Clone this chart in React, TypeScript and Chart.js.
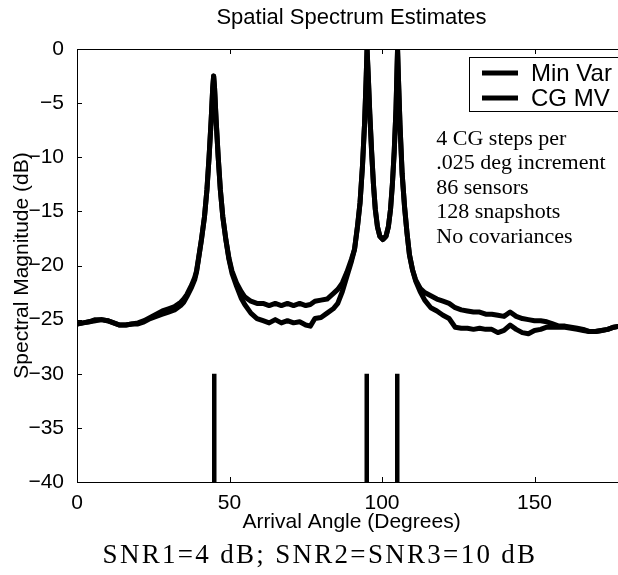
import React, { useEffect, useRef } from 'react';
import { Chart, registerables } from 'chart.js';

Chart.register(...registerables);

// ---------- data ----------
const angles = [
  0, 2, 4, 6, 8, 10, 12, 14, 16, 18,
  20, 22, 24, 26, 28, 30, 32, 34, 35, 36,
  37.6, 38.6, 39.2, 39.8, 40.8, 41.8, 42.6, 43.3, 44, 44.5,
  44.8, 45.1, 45.6, 46.3, 47, 47.8, 48.8, 49.8, 50.8, 52.3,
  53.8, 55, 57, 59, 61, 63, 65, 67, 69, 71,
  73, 75, 76.5, 78, 80, 82, 84, 85.5, 87, 88.5,
  90, 91, 92, 92.8, 93.6, 94.3, 94.8, 95.1, 95.5, 96,
  96.6, 97.2, 97.8, 98.5, 99.3, 100.3, 101.3, 102.1, 102.8, 103.4,
  104, 104.6, 105.1, 105.4, 105.9, 106.6, 107.4, 108.2, 109, 110,
  111, 112.5, 114, 116, 118, 120, 122, 124, 126, 128,
  130, 132, 134, 136, 138, 140, 142, 144, 146, 148,
  150, 152, 154, 156, 158, 160, 162, 164, 166, 168,
  170, 172, 174, 176, 178, 180,
];

const minVar = [
  -25.4, -25.3, -25.2, -25.0, -25.0, -25.1, -25.3, -25.5, -25.5, -25.4,
  -25.3, -25.1, -24.8, -24.5, -24.2, -24.0, -23.8, -23.4, -23.1, -22.7,
  -21.8, -21.1, -20.5, -19.4, -17.6, -15.5, -13.0, -10.0, -6.5, -3.6,
  -2.5, -3.6, -6.5, -10.0, -13.0, -15.5, -17.6, -19.3, -20.5, -21.6,
  -22.4, -22.9, -23.3, -23.5, -23.5, -23.7, -23.5, -23.7, -23.5, -23.7,
  -23.5, -23.7, -23.6, -23.3, -23.2, -23.1, -22.6, -22.2, -21.6, -20.6,
  -19.4, -18.5, -16.3, -14.2, -10.8, -6.8, -2.8, 0, -2.5, -6.0,
  -9.5, -12.5, -14.8, -16.4, -17.3, -17.6, -17.3, -16.4, -14.8, -12.5,
  -9.5, -5.5, 0, -2.8, -7.0, -11.5, -14.6, -17.0, -19.0, -20.4,
  -21.3, -22.1, -22.5, -22.8, -23.1, -23.3, -23.5, -23.9, -24.1, -24.2,
  -24.3, -24.3, -24.5, -24.5, -24.6, -24.7, -24.3, -24.7, -24.9, -25.0,
  -25.1, -25.1, -25.2, -25.4, -25.6, -25.6, -25.7, -25.8, -25.9, -26.1,
  -26.1, -26.0, -25.9, -25.7, -25.6, -25.5,
];

const cgMv = [
  -25.4, -25.3, -25.2, -25.1, -25.0, -25.1, -25.3, -25.5, -25.5, -25.4,
  -25.4, -25.2, -24.9, -24.7, -24.5, -24.3, -24.1, -23.7, -23.4, -22.9,
  -22.0, -21.3, -20.6, -19.5, -17.6, -15.5, -13.0, -10.0, -6.5, -3.6,
  -2.5, -3.6, -6.5, -10.0, -13.0, -15.5, -17.6, -19.4, -20.7, -21.9,
  -23.0, -23.6, -24.4, -24.9, -25.1, -25.3, -25.0, -25.3, -25.1, -25.3,
  -25.2, -25.5, -25.6, -24.9, -24.8, -24.4, -24.0, -23.5, -22.4, -21.0,
  -19.6, -18.5, -16.3, -14.2, -10.8, -6.8, -2.8, 0, -2.5, -6.0,
  -9.5, -12.5, -14.8, -16.4, -17.3, -17.6, -17.3, -16.4, -14.8, -12.5,
  -9.5, -5.5, 0, -2.8, -7.0, -11.5, -14.6, -17.0, -19.0, -20.4,
  -21.4, -22.4, -23.2, -23.9, -24.2, -24.6, -24.9, -25.7, -25.8, -25.8,
  -25.9, -25.8, -25.9, -25.9, -26.2, -26.0, -25.5, -25.9, -26.2, -26.3,
  -26.0, -25.9, -25.7, -25.7, -25.7, -25.7, -25.8, -25.9, -26.0, -26.1,
  -26.1, -26.0, -25.9, -25.7, -25.6, -25.5,
];

const trueAngles = [45, 95, 105];
const trueMarkerRange = [-40, -30];

const xTickValues = [0, 50, 100, 150];
const yTickValues = [-40, -35, -30, -25, -20, -15, -10, -5, 0];
const xRange = [0, 180];
const yRange = [-40, 0];

const seriesLabels = ['Min Var', 'CG MV'];
const noteLines = ['4 CG steps per', '.025 deg increment', '86 sensors', '128 snapshots', 'No covariances'];
const noteAnchor = { x: 117.8, y: -8.3 };

const TITLE = 'Spatial Spectrum Estimates';
const X_TITLE = 'Arrival Angle (Degrees)';
const Y_TITLE = 'Spectral Magnitude (dB)';
const CAPTION = 'SNR1=4 dB; SNR2=SNR3=10 dB';

const SANS = "'Liberation Sans', Arial, Helvetica, sans-serif";
const SERIF = "'Liberation Serif', 'Times New Roman', serif";

// ---------- plugins ----------
const framePlugin = {
  id: 'frame',
  afterDatasetsDraw(chart: any) {
    const { ctx, chartArea: a, scales } = chart;
    const xs = scales.x;
    const ys = scales.y;
    ctx.save();
    ctx.strokeStyle = '#000';
    ctx.lineWidth = 1;
    ctx.strokeRect(a.left + 0.5, a.top + 0.5, a.right - a.left, a.bottom - a.top);
    const tl = 5;
    ctx.beginPath();
    xTickValues.forEach((v) => {
      const px = Math.round(xs.getPixelForValue(v)) + 0.5;
      ctx.moveTo(px, a.bottom);
      ctx.lineTo(px, a.bottom - tl);
      ctx.moveTo(px, a.top);
      ctx.lineTo(px, a.top + tl);
    });
    yTickValues.forEach((v) => {
      const py = Math.round(ys.getPixelForValue(v)) + 0.5;
      ctx.moveTo(a.left, py);
      ctx.lineTo(a.left + tl, py);
      ctx.moveTo(a.right, py);
      ctx.lineTo(a.right - tl, py);
    });
    ctx.stroke();
    ctx.restore();
  },
};

const legendBoxPlugin = {
  id: 'legendBox',
  afterDraw(chart: any) {
    const { ctx, chartArea: a } = chart;
    const right = a.right - 4;
    const top = a.top + 8;
    const w = 153;
    const h = 54;
    const left = right - w;
    ctx.save();
    ctx.fillStyle = '#fff';
    ctx.fillRect(left, top, w, h);
    ctx.strokeStyle = '#000';
    ctx.lineWidth = 1;
    ctx.strokeRect(left + 0.5, top + 0.5, w, h);
    ctx.font = `24px ${SANS}`;
    ctx.textBaseline = 'middle';
    ctx.textAlign = 'left';
    ctx.fillStyle = '#000';
    chart.data.datasets.slice(0, 2).forEach((ds: any, i: number) => {
      const cy = top + 16 + i * 25;
      ctx.beginPath();
      ctx.lineWidth = 5;
      ctx.strokeStyle = ds.borderColor;
      ctx.moveTo(left + 13, cy);
      ctx.lineTo(left + 49, cy);
      ctx.stroke();
      ctx.fillText(ds.label, left + 62, cy + 1);
    });
    ctx.restore();
  },
};

const notesPlugin = {
  id: 'notes',
  afterDraw(chart: any) {
    const { ctx, scales } = chart;
    const x0 = scales.x.getPixelForValue(noteAnchor.x);
    const y0 = scales.y.getPixelForValue(noteAnchor.y);
    ctx.save();
    ctx.font = `22px ${SERIF}`;
    ctx.fillStyle = '#000';
    ctx.textAlign = 'left';
    ctx.textBaseline = 'middle';
    noteLines.forEach((t, i) => ctx.fillText(t, x0, y0 + i * 24.5));
    ctx.restore();
  },
};

const captionPlugin = {
  id: 'caption',
  afterDraw(chart: any) {
    const { ctx } = chart;
    ctx.save();
    ctx.font = `27px ${SERIF}`;
    (ctx as any).letterSpacing = '2.3px';
    ctx.fillStyle = '#000';
    ctx.textAlign = 'center';
    ctx.textBaseline = 'middle';
    ctx.fillText(CAPTION, 320, 556);
    ctx.restore();
  },
};

export default function App() {
  const canvasRef = useRef<HTMLCanvasElement | null>(null);

  useEffect(() => {
    if (!canvasRef.current) return;
    const toPts = (ys: number[]) => angles.map((a, i) => ({ x: a, y: ys[i] }));
    const markerPts: any[] = [];
    trueAngles.forEach((a) => {
      markerPts.push({ x: a, y: trueMarkerRange[0] });
      markerPts.push({ x: a, y: trueMarkerRange[1] });
      markerPts.push({ x: a, y: null });
    });

    const lineStyle = {
      borderColor: '#000',
      backgroundColor: '#000',
      borderWidth: 5,
      pointRadius: 0,
      tension: 0,
      borderJoinStyle: 'round',
      borderCapStyle: 'round',
      fill: false,
    };

    const chart = new Chart(canvasRef.current, {
      type: 'line',
      data: {
        datasets: [
          { label: seriesLabels[0], data: toPts(minVar), ...lineStyle },
          { label: seriesLabels[1], data: toPts(cgMv), ...lineStyle },
          { label: 'true', data: markerPts, ...lineStyle, borderWidth: 4.5, borderCapStyle: 'butt', spanGaps: false },
        ] as any,
      },
      options: {
        animation: false,
        responsive: true,
        maintainAspectRatio: false,
        layout: { padding: { top: 0, right: 4, bottom: 35.4, left: 0 } },
        plugins: {
          legend: { display: false },
          tooltip: { enabled: false },
          title: {
            display: true,
            text: TITLE,
            color: '#000',
            fullSize: false,
            font: { family: SANS, size: 22, weight: 'normal' },
            padding: { top: 5, bottom: 17.6 },
          },
        },
        scales: {
          x: {
            type: 'linear',
            min: xRange[0],
            max: xRange[1],
            grid: { display: false },
            border: { display: false },
            afterBuildTicks: (s: any) => {
              s.ticks = xTickValues.map((v) => ({ value: v }));
            },
            afterFit: (s: any) => {
              s.height = 57.6;
            },
            ticks: {
              color: '#000',
              padding: 1,
              maxRotation: 0,
              font: { family: SANS, size: 21 },
              callback: (v: any) => String(v),
            },
            title: {
              display: true,
              text: X_TITLE,
              color: '#000',
              font: { family: SANS, size: 21 },
              padding: { top: 0, bottom: 5 },
            },
          },
          y: {
            type: 'linear',
            min: yRange[0],
            max: yRange[1],
            grid: { display: false },
            border: { display: false },
            afterBuildTicks: (s: any) => {
              s.ticks = yTickValues.map((v) => ({ value: v }));
            },
            afterFit: (s: any) => {
              s.width = 77;
            },
            ticks: {
              color: '#000',
              padding: 5,
              font: { family: SANS, size: 21 },
              callback: (v: any) => String(v).replace('-', '\u2212'),
            },
            title: {
              display: true,
              text: Y_TITLE,
              color: '#000',
              font: { family: SANS, size: 21 },
              padding: { top: 10, bottom: 0 },
            },
          },
        },
      } as any,
      plugins: [framePlugin, legendBoxPlugin, notesPlugin, captionPlugin],
    });
    return () => chart.destroy();
  }, []);

  return (
    <div style={{ position: 'absolute', left: 0, top: 0, width: 618, height: 575, overflow: 'hidden', background: '#fff' }}>
      <div style={{ position: 'relative', width: 630, height: 575 }}>
        <canvas ref={canvasRef} />
      </div>
    </div>
  );
}
